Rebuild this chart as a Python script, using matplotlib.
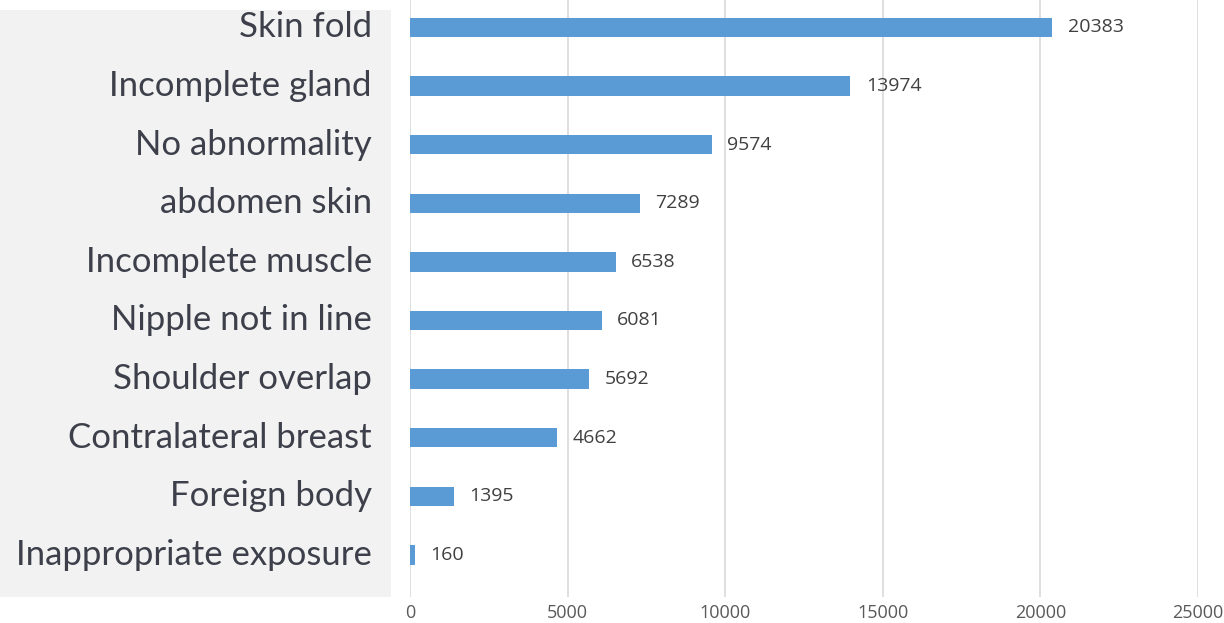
import matplotlib
matplotlib.use("Agg")
import matplotlib.pyplot as plt
from matplotlib.patches import Rectangle
from matplotlib.transforms import blended_transform_factory

categories = ["Skin fold", "Incomplete gland", "No abnormality", "abdomen skin",
              "Incomplete muscle", "Nipple not in line", "Shoulder overlap",
              "Contralateral breast", "Foreign body", "Inappropriate exposure"]
counts = [20383, 13974, 9574, 7289, 6538, 6081, 5692, 4662, 1395, 160]
x_ticks = [0, 5000, 10000, 15000, 20000, 25000]

W, H = 1224, 623
fig = plt.figure(figsize=(W / 100, H / 100), dpi=100)
fig.patch.set_facecolor("white")

# light panel behind the category names
fig.patches.append(Rectangle((0, 26 / H), 391 / W, 587 / H, transform=fig.transFigure,
                             facecolor="#f2f2f2", edgecolor="none", zorder=0))

# plot area spans y=-2..597 px from the top of the figure
ax = fig.add_axes([410 / W, 26 / H, 788 / W, 599 / H])
ax.set_facecolor("none")

n = len(categories)
ypos = [n - 1 - i for i in range(n)]
ax.barh(ypos, counts, height=0.33, color="#5b9bd5", zorder=3)

for y, v in zip(ypos, counts):
    ax.annotate(str(v), xy=(v, y), xytext=(11, 0), textcoords="offset points",
                va="center", ha="left", fontsize=14, color="#404040",
                family="Open Sans", zorder=4)

ax.set_xlim(0, 25000)
ax.set_ylim(-0.716, n - 0.5)
ax.set_xticks(x_ticks)
ax.set_xticklabels([str(t) for t in x_ticks], fontsize=13, color="#595959",
                   family="Open Sans")
ax.tick_params(axis="x", length=0, pad=5)
ax.set_yticks([])
ax.grid(axis="x", color="#d9d9d9", linewidth=1.2, zorder=0)
for s in ax.spines.values():
    s.set_visible(False)

trans = blended_transform_factory(fig.transFigure, ax.transData)
for y, name in zip(ypos, categories):
    fig.text(372 / W, y, name, transform=trans, ha="right", va="center",
             fontsize=25, color="#3d404a", family="Lato")

fig.savefig("out.png", dpi=100)
